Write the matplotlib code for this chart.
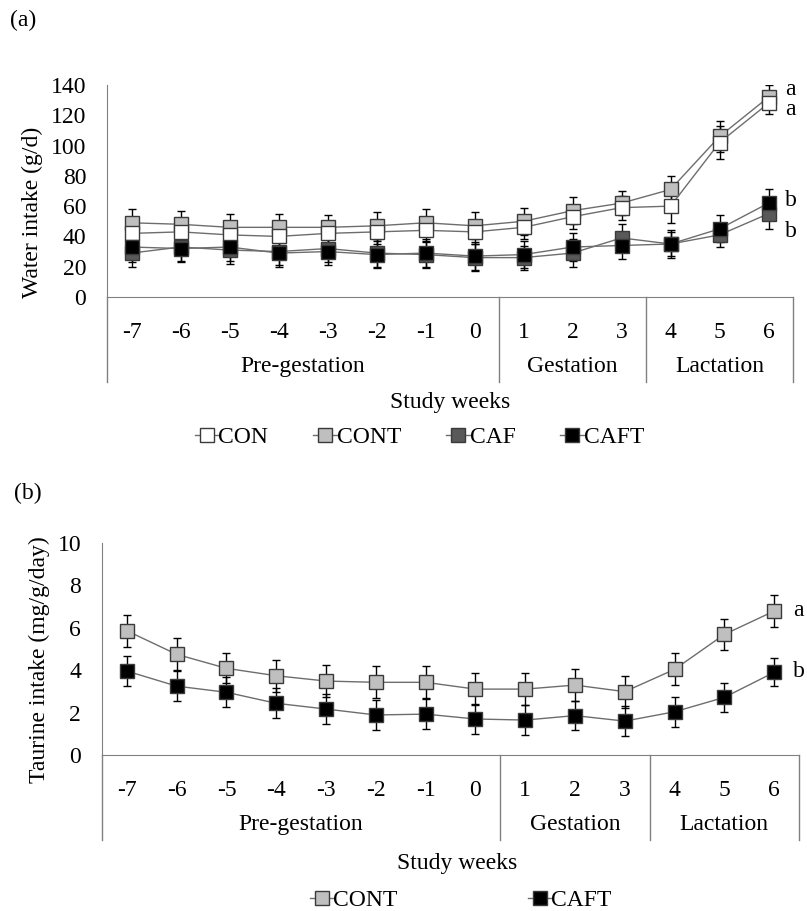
import numpy as np
import matplotlib
matplotlib.use("Agg")
import matplotlib.pyplot as plt
from matplotlib.lines import Line2D

plt.rcParams['font.family'] = ['Liberation Serif', 'DejaVu Serif']

# Data
weeks = ["-7", "-6", "-5", "-4", "-3", "-2", "-1", "0", "1", "2", "3", "4", "5", "6"]
phases = ["Pre-gestation", "Gestation", "Lactation"]
phase_bounds = [-0.5, 7.5, 10.5, 13.5]

water_con = [42, 43, 41, 40, 42, 43, 44, 43, 46, 53, 59, 60, 102, 128]
water_cont = [49, 48, 46, 46, 46, 47, 49, 47, 50, 57, 62, 71, 106, 132]
water_caf = [29, 33, 31, 30, 32, 29, 28, 26, 26, 29, 39, 35, 41, 55]
water_caft = [33, 32, 33, 29, 30, 28, 29, 27, 28, 33, 34, 35, 45, 62]
water_con_err = [8, 8, 8, 9, 8, 8, 8, 8, 8, 8, 8, 11, 11, 7]
water_cont_err = [9, 9, 9, 9, 8, 9, 9, 9, 9, 9, 8, 9, 10, 8]
water_caf_err = [9, 9, 9, 9, 9, 9, 9, 9, 8, 9, 9, 8, 8, 10]
water_caft_err = [10, 9, 9, 9, 9, 9, 9, 9, 9, 9, 9, 9, 9, 9]

taur_cont = [5.86, 4.75, 4.09, 3.74, 3.49, 3.43, 3.43, 3.11, 3.11, 3.30, 2.99, 4.04, 5.69, 6.79]
taur_caft = [3.96, 3.25, 2.96, 2.44, 2.17, 1.89, 1.93, 1.70, 1.65, 1.86, 1.60, 2.04, 2.72, 3.90]
taur_cont_err = [0.75, 0.75, 0.7, 0.75, 0.75, 0.75, 0.75, 0.75, 0.75, 0.75, 0.75, 0.75, 0.75, 0.76]
taur_caft_err = [0.7, 0.7, 0.7, 0.7, 0.7, 0.7, 0.7, 0.7, 0.7, 0.7, 0.7, 0.7, 0.7, 0.66]

colors = {"CON": "white", "CONT": "#bfbfbf", "CAF": "#595959", "CAFT": "black"}
FS = 17
x = np.arange(len(weeks))

fig = plt.figure(figsize=(8.07, 9.11), dpi=100)


def draw_series(ax, y, err, name, ms):
    ax.errorbar(x, y, yerr=err, fmt='none', ecolor='black', elinewidth=1,
                capsize=3, capthick=1, zorder=2)
    ax.plot(x, y, color='#6d6d6d', lw=1, marker='s', ms=ms,
            mfc=colors[name], mec='#3a3a3a', mew=1, zorder=3)


def style_axes(ax, ylim, yticks, title_x, title_y):
    ax.set_xlim(-0.5, 13.5)
    ax.set_ylim(*ylim)
    ax.set_yticks(yticks)
    ax.set_xticks(x)
    ax.set_xticklabels(weeks)
    for s in ["top", "right"]:
        ax.spines[s].set_visible(False)
    for s in ["left", "bottom"]:
        ax.spines[s].set_color('#808080')
    ax.tick_params(axis='both', length=0, labelsize=FS)
    ax.tick_params(axis='x', pad=18)
    ax.tick_params(axis='y', pad=15)
    tr = ax.get_xaxis_transform()
    # category table lines below the axis
    for b in phase_bounds:
        ax.plot([b, b], [0, -0.40], transform=tr, color='#808080', lw=1, clip_on=False)
    for i, p in enumerate(phases):
        ax.text((phase_bounds[i] + phase_bounds[i + 1]) / 2, -0.33, p, transform=tr,
                ha='center', va='center', fontsize=FS)
    ax.text(title_x, title_y, "Study weeks", transform=ax.transAxes, ha='center',
            va='center', fontsize=FS)


# Panel (a)
ax1 = fig.add_axes([0.1326, 0.6740, 0.8501, 0.2327])
draw_series(ax1, water_cont, water_cont_err, "CONT", 10.5)
draw_series(ax1, water_con, water_con_err, "CON", 10.5)
draw_series(ax1, water_caf, water_caf_err, "CAF", 10.5)
draw_series(ax1, water_caft, water_caft_err, "CAFT", 10.5)
style_axes(ax1, (0, 140), np.arange(0, 141, 20), 0.50, -0.50)
ax1.set_ylabel("Water intake (g/d)", fontsize=FS)
ax1.yaxis.set_label_coords(-0.093, 0.40)
ax1.text(13.33, 137, "a", fontsize=FS, va='center', ha='left', clip_on=False)
ax1.text(13.33, 124, "a", fontsize=FS, va='center', ha='left', clip_on=False)
ax1.text(13.33, 64, "b", fontsize=FS, va='center', ha='left', clip_on=False)
ax1.text(13.33, 43, "b", fontsize=FS, va='center', ha='left', clip_on=False)
fig.text(0.012, 0.978, "(a)", fontsize=FS, va='center')

handles_a = [Line2D([], [], color='#6d6d6d', lw=1, marker='s', ms=10,
                    mfc=colors[n], mec='#3a3a3a') for n in ["CON", "CONT", "CAF", "CAFT"]]
fig.legend(handles_a, ["CON", "CONT", "CAF", "CAFT"], loc='center',
           bbox_to_anchor=(0.52, 1 - 437 / 911), ncol=4, frameon=False,
           fontsize=FS, handlelength=1.0, handletextpad=0.0, columnspacing=1.9)

# Panel (b)
ax2 = fig.add_axes([0.1264, 0.1712, 0.8637, 0.2327])
draw_series(ax2, taur_cont, taur_cont_err, "CONT", 10)
draw_series(ax2, taur_caft, taur_caft_err, "CAFT", 10)
style_axes(ax2, (0, 10), np.arange(0, 11, 2), 0.51, -0.51)
ax2.set_ylabel("Taurine intake (mg/g/day)", fontsize=FS)
ax2.yaxis.set_label_coords(-0.075, 0.45)
ax2.text(13.38, 6.84, "a", fontsize=FS, va='center', ha='left', clip_on=False)
ax2.text(13.38, 3.93, "b", fontsize=FS, va='center', ha='left', clip_on=False)
fig.text(0.017, 1 - 493 / 911, "(b)", fontsize=FS, va='center')

handles_b = [Line2D([], [], color='#6d6d6d', lw=1, marker='s', ms=10,
                    mfc=colors[n], mec='#3a3a3a') for n in ["CONT", "CAFT"]]
fig.legend(handles_b, ["CONT", "CAFT"], loc='center',
           bbox_to_anchor=(0.571, 1 - 900 / 911), ncol=2, frameon=False,
           fontsize=FS, handlelength=1.0, handletextpad=0.0, columnspacing=5.5)

fig.savefig("out.png", dpi=100)
